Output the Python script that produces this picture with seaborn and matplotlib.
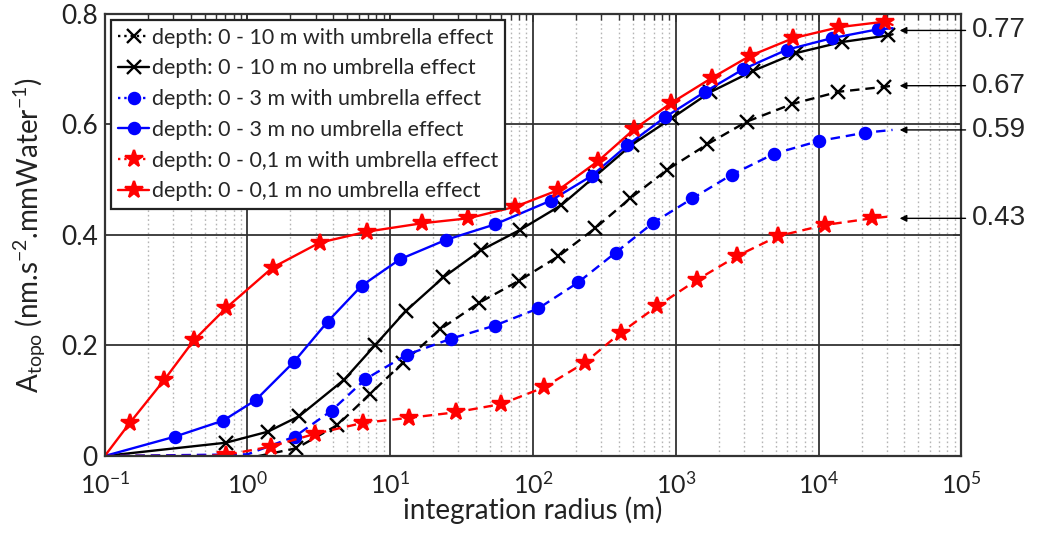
import numpy as np
import matplotlib
matplotlib.use("Agg")
import matplotlib.pyplot as plt
from matplotlib.lines import Line2D
from matplotlib.ticker import FixedLocator, NullFormatter, LogFormatterSciNotation
import seaborn as sns

# marker positions, x = integration radius (m), y = A_topo
bk_wu_x = [2.2, 4.27, 7.2, 12.3, 22.3, 41.8, 79.6, 150, 272, 478, 871, 1663, 3140, 6550, 13770, 28900]
bk_wu_y = [0.014, 0.056, 0.112, 0.169, 0.229, 0.277, 0.317, 0.361, 0.412, 0.466, 0.518, 0.564, 0.605, 0.637, 0.659, 0.668]
bk_nu_x = [0.705, 1.39, 2.30, 4.75, 7.8, 12.8, 23.5, 43, 81, 158, 272, 491, 935, 1734, 3490, 6920, 14550, 30800]
bk_nu_y = [0.024, 0.044, 0.072, 0.138, 0.200, 0.262, 0.323, 0.372, 0.409, 0.454, 0.506, 0.563, 0.611, 0.658, 0.697, 0.729, 0.749, 0.761]
bl_wu_x = [2.14, 3.88, 6.7, 13.0, 26.5, 54, 109, 207, 379, 695, 1306, 2466, 4900, 10070, 21200]
bl_wu_y = [0.035, 0.082, 0.139, 0.183, 0.212, 0.236, 0.267, 0.314, 0.368, 0.422, 0.466, 0.509, 0.547, 0.570, 0.585]
bl_nu_x = [0.31, 0.675, 1.14, 2.11, 3.64, 6.3, 11.7, 24.5, 54, 133, 258, 457, 840, 1603, 2972, 5990, 12400, 26000]
bl_nu_y = [0.035, 0.064, 0.101, 0.170, 0.243, 0.308, 0.356, 0.391, 0.419, 0.462, 0.507, 0.562, 0.613, 0.659, 0.700, 0.735, 0.756, 0.772]
rd_wu_x = [0.71, 1.45, 2.96, 6.46, 13.5, 28.7, 60, 119, 231, 411, 741, 1415, 2698, 5224, 11100, 23600]
rd_wu_y = [0.002, 0.017, 0.040, 0.060, 0.069, 0.079, 0.094, 0.124, 0.169, 0.223, 0.271, 0.319, 0.362, 0.398, 0.418, 0.430]
rd_nu_x = [0.15, 0.26, 0.42, 0.71, 1.5, 3.2, 6.9, 16.6, 35, 75, 150, 287, 509, 920, 1786, 3311, 6650, 14000, 29200]
rd_nu_y = [0.060, 0.137, 0.209, 0.268, 0.341, 0.386, 0.406, 0.421, 0.430, 0.451, 0.481, 0.534, 0.591, 0.638, 0.684, 0.724, 0.756, 0.776, 0.786]

# unmarked points of the curves (start at r=0.1, end of the curve)
bk_wu_head = ([0.1, 1.2], [0.0, 0.0])
bk_nu_head = ([0.1], [0.0])
bl_wu_head = ([0.1, 1.0], [0.0, 0.003])
bl_nu_head = ([0.1], [0.0])
rd_wu_head = ([0.1, 0.5], [0.0, 0.0])
rd_nu_head = ([0.1], [0.0])
bk_wu_end, bk_nu_end = 0.670, 0.763
bl_wu_end, bl_nu_end = 0.590, 0.774
rd_wu_end, rd_nu_end = 0.434, 0.780
x_end = 33000

labels = [
    "depth: 0 - 10 m with umbrella effect",
    "depth: 0 - 10 m no umbrella effect",
    "depth: 0 - 3 m with umbrella effect",
    "depth: 0 - 3 m no umbrella effect",
    "depth: 0 - 0,1 m with umbrella effect",
    "depth: 0 - 0,1 m no umbrella effect",
]
asymptotes = [0.77, 0.67, 0.59, 0.43]
x_decades = [1e-1, 1e0, 1e1, 1e2, 1e3, 1e4, 1e5]
y_ticks = [0, 0.2, 0.4, 0.6, 0.8]
y_ticklabels = ["0", "0.2", "0.4", "0.6", "0.8"]

sns.set_theme(style="white")
plt.rcParams["font.family"] = ["Lato", "DejaVu Sans"]
plt.rcParams["mathtext.fontset"] = "custom"
plt.rcParams["mathtext.rm"] = "Lato"
plt.rcParams["mathtext.it"] = "Lato"
plt.rcParams["mathtext.default"] = "regular"

fig = plt.figure(figsize=(10.37, 5.33), dpi=100)
ax = fig.add_axes([0.101, 0.1445, 0.826, 0.8295])
ax.set_xscale("log")

DASHED = (0, (4, 2.5))
series = [
    (bk_wu_x, bk_wu_y, bk_wu_head, bk_wu_end, "black", DASHED, "x", 10),
    (bk_nu_x, bk_nu_y, bk_nu_head, bk_nu_end, "black", "-", "x", 10),
    (bl_wu_x, bl_wu_y, bl_wu_head, bl_wu_end, "#0000ff", DASHED, "o", 8),
    (bl_nu_x, bl_nu_y, bl_nu_head, bl_nu_end, "#0000ff", "-", "o", 8),
    (rd_wu_x, rd_wu_y, rd_wu_head, rd_wu_end, "#ff0000", DASHED, "*", 13),
    (rd_nu_x, rd_nu_y, rd_nu_head, rd_nu_end, "#ff0000", "-", "*", 13),
]

handles = []
for (mx, my, head, yend, col, ls, mk, ms), lab in zip(series, labels):
    lx = list(head[0]) + list(mx) + [x_end]
    ly = list(head[1]) + list(my) + [yend]
    n0 = len(head[0])
    sns.lineplot(x=lx, y=ly, ax=ax, color=col, linewidth=1.7, sort=False,
                 linestyle=ls, marker=mk, markersize=ms, markeredgewidth=1.7,
                 markevery=list(range(n0, n0 + len(mx))), markeredgecolor=col,
                 estimator=None, legend=False)
    # the legend of the original shows the dashed curves as dotted
    handles.append(Line2D([], [], color=col, linewidth=1.7,
                          linestyle=":" if ls == DASHED else "-",
                          marker=mk, markersize=ms, markeredgewidth=1.7))

ax.set_xlim(0.1, 1e5)
ax.set_ylim(0, 0.8)
ax.set_yticks(y_ticks)
ax.set_yticklabels(y_ticklabels)
minor = [m * d for d in x_decades[:-1] for m in range(2, 10)]
ax.xaxis.set_major_locator(FixedLocator(x_decades))
ax.xaxis.set_minor_locator(FixedLocator(minor))
ax.xaxis.set_minor_formatter(NullFormatter())
ax.xaxis.set_major_formatter(LogFormatterSciNotation())

ax.grid(which="major", axis="both", color="#333333", linewidth=1.3, linestyle="-")
ax.grid(which="minor", axis="x", color="#b5b5b5", linewidth=1.0, linestyle=(0, (1.2, 2)))
ax.set_axisbelow(True)
for s in ax.spines.values():
    s.set_color("#333333")
    s.set_linewidth(1.6)
ax.tick_params(which="both", direction="in", top=True, right=True, colors="#333333",
               labelcolor="#222222", labelsize=19)
ax.tick_params(axis="x", labelsize=18)
ax.tick_params(which="major", length=6, width=1.2)
ax.tick_params(which="minor", length=4, width=1.0)
ax.tick_params(axis="x", pad=11)
ax.tick_params(axis="y", pad=5)

ax.set_xlabel("integration radius (m)", fontsize=20, color="#222222", labelpad=-1)
ax.set_ylabel(r"A$_{topo}$ (nm.s$^{-2}$.mmWater$^{-1}$)", fontsize=20, color="#222222", labelpad=9)

leg = ax.legend(handles, labels, loc="upper left", bbox_to_anchor=(0.007, 0.986),
                borderaxespad=0, fontsize=15.5, frameon=True, fancybox=False,
                handlelength=1.45, handletextpad=0.1, labelspacing=0.5, borderpad=0.35)
leg.get_frame().set_edgecolor("#222222")
leg.get_frame().set_linewidth(1.6)
leg.get_frame().set_alpha(1)

for v in asymptotes:
    ax.annotate(f"{v:.2f}", xy=(37000, v), xycoords="data",
                xytext=(1.012, v), textcoords=("axes fraction", "data"),
                fontsize=20, family="Liberation Sans", va="center", ha="left",
                arrowprops=dict(arrowstyle="-|>", color="black", lw=1.0,
                                mutation_scale=10, shrinkA=2, shrinkB=0))

fig.savefig("out.png", dpi=100)
